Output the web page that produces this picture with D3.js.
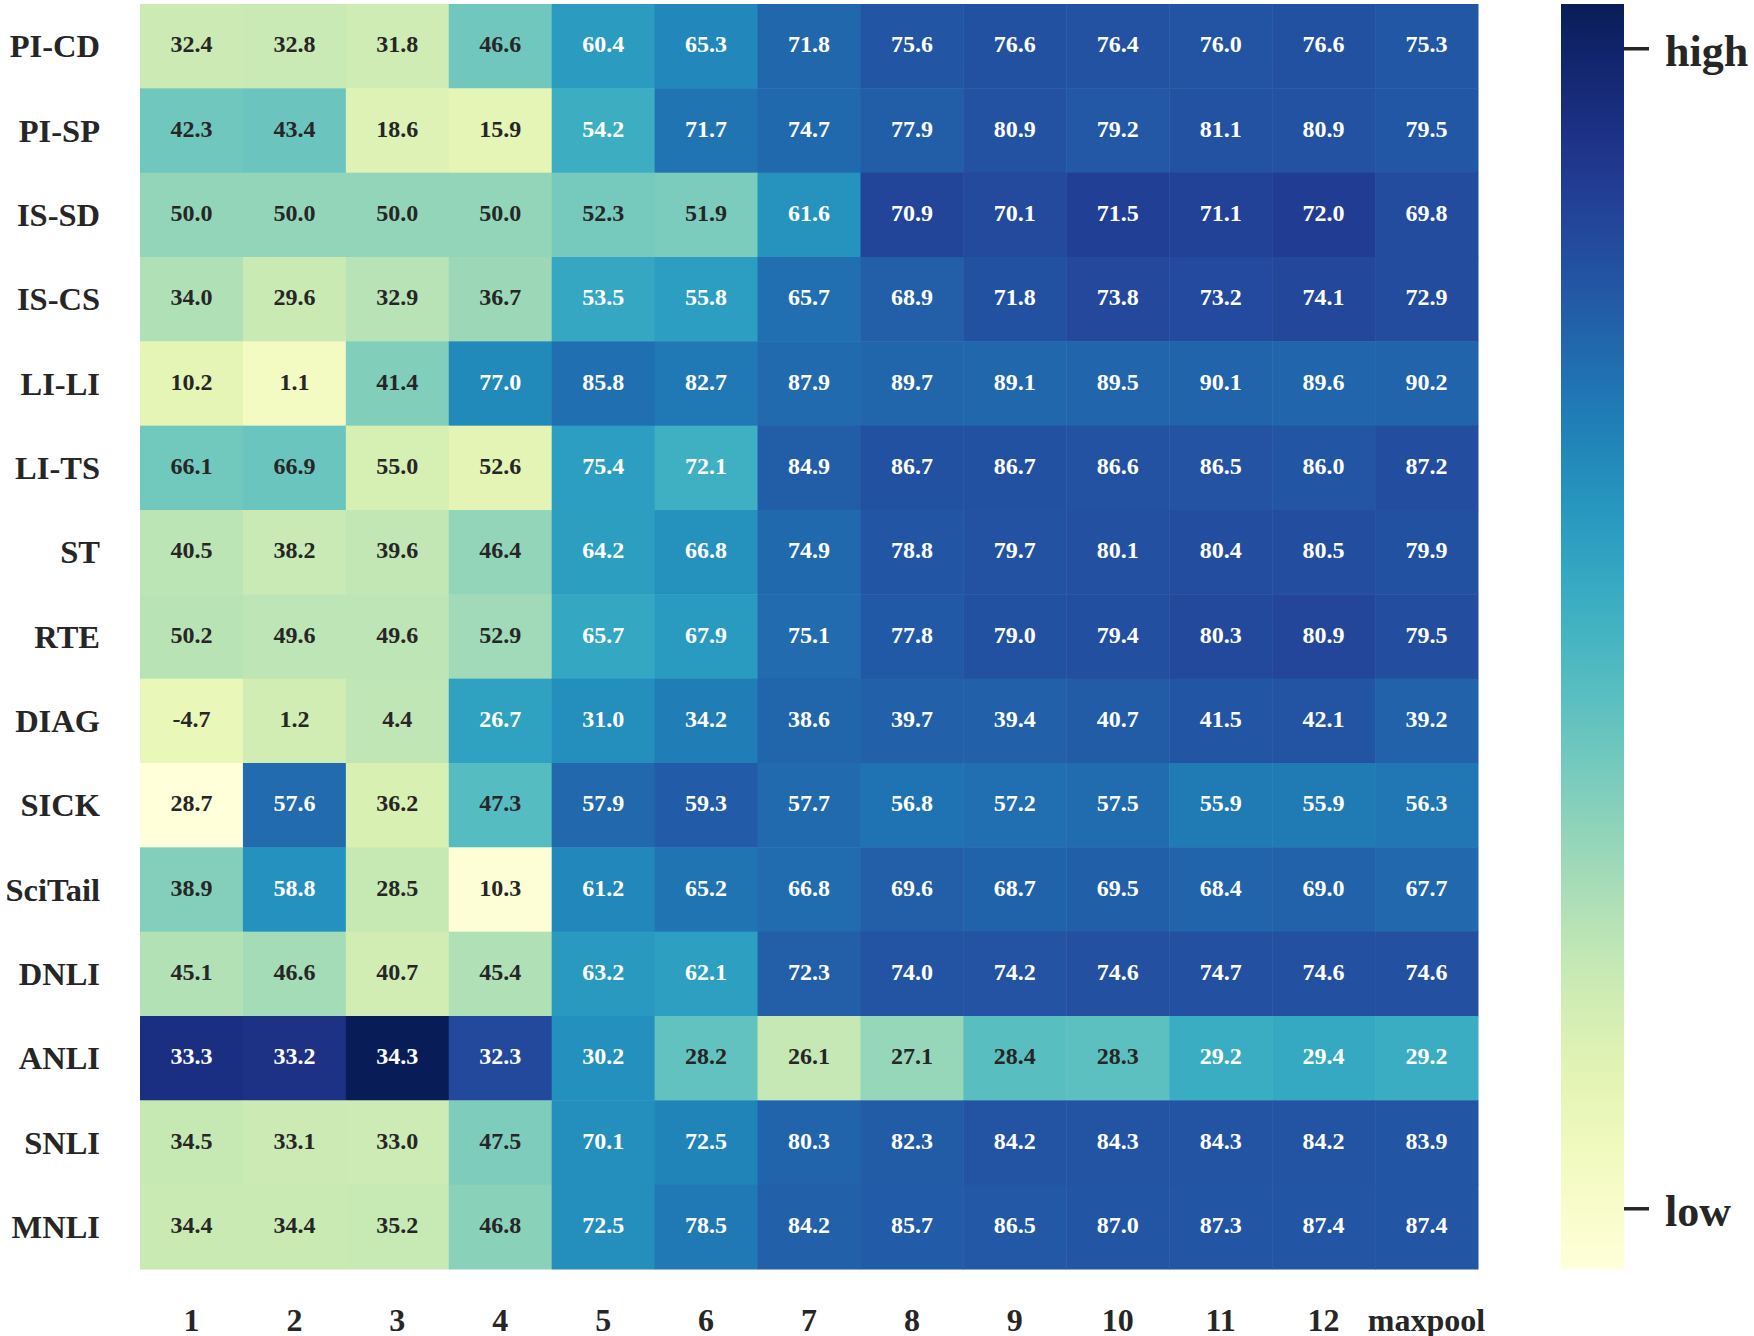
<!DOCTYPE html>
<meta charset="utf-8">
<script src="https://d3js.org/d3.v7.min.js"></script>
<style>
  body { margin: 0; background: #fff; }
  text { font-family: "Liberation Serif", "Times New Roman", serif; font-weight: bold; }
</style>
<body>
<script>
  // row labels (tasks) and column labels (layers)
  var tasks = ["PI-CD", "PI-SP", "IS-SD", "IS-CS", "LI-LI", "LI-TS", "ST", "RTE",
               "DIAG", "SICK", "SciTail", "DNLI", "ANLI", "SNLI", "MNLI"];
  var layers = ["1", "2", "3", "4", "5", "6", "7", "8", "9", "10", "11", "12", "maxpool"];

  var piCd    = [32.4, 32.8, 31.8, 46.6, 60.4, 65.3, 71.8, 75.6, 76.6, 76.4, 76.0, 76.6, 75.3];
  var piSp    = [42.3, 43.4, 18.6, 15.9, 54.2, 71.7, 74.7, 77.9, 80.9, 79.2, 81.1, 80.9, 79.5];
  var isSd    = [50.0, 50.0, 50.0, 50.0, 52.3, 51.9, 61.6, 70.9, 70.1, 71.5, 71.1, 72.0, 69.8];
  var isCs    = [34.0, 29.6, 32.9, 36.7, 53.5, 55.8, 65.7, 68.9, 71.8, 73.8, 73.2, 74.1, 72.9];
  var liLi    = [10.2, 1.1, 41.4, 77.0, 85.8, 82.7, 87.9, 89.7, 89.1, 89.5, 90.1, 89.6, 90.2];
  var liTs    = [66.1, 66.9, 55.0, 52.6, 75.4, 72.1, 84.9, 86.7, 86.7, 86.6, 86.5, 86.0, 87.2];
  var st      = [40.5, 38.2, 39.6, 46.4, 64.2, 66.8, 74.9, 78.8, 79.7, 80.1, 80.4, 80.5, 79.9];
  var rte     = [50.2, 49.6, 49.6, 52.9, 65.7, 67.9, 75.1, 77.8, 79.0, 79.4, 80.3, 80.9, 79.5];
  var diag    = [-4.7, 1.2, 4.4, 26.7, 31.0, 34.2, 38.6, 39.7, 39.4, 40.7, 41.5, 42.1, 39.2];
  var sick    = [28.7, 57.6, 36.2, 47.3, 57.9, 59.3, 57.7, 56.8, 57.2, 57.5, 55.9, 55.9, 56.3];
  var sciTail = [38.9, 58.8, 28.5, 10.3, 61.2, 65.2, 66.8, 69.6, 68.7, 69.5, 68.4, 69.0, 67.7];
  var dnli    = [45.1, 46.6, 40.7, 45.4, 63.2, 62.1, 72.3, 74.0, 74.2, 74.6, 74.7, 74.6, 74.6];
  var anli    = [33.3, 33.2, 34.3, 32.3, 30.2, 28.2, 26.1, 27.1, 28.4, 28.3, 29.2, 29.4, 29.2];
  var snli    = [34.5, 33.1, 33.0, 47.5, 70.1, 72.5, 80.3, 82.3, 84.2, 84.3, 84.3, 84.2, 83.9];
  var mnli    = [34.4, 34.4, 35.2, 46.8, 72.5, 78.5, 84.2, 85.7, 86.5, 87.0, 87.3, 87.4, 87.4];

  var rows = [piCd, piSp, isSd, isCs, liLi, liTs, st, rte, diag, sick, sciTail, dnli, anli, snli, mnli];

  // colorbar tick labels and where they sit (fraction of the colour range)
  var cbLabels = ["high", "low"];
  var cbFrac = [0.965, 0.048];

  // colour is by z-score within each row
  var cells = [];
  rows.forEach(function(vals, i) {
    var m = d3.mean(vals);
    var sd = Math.sqrt(d3.mean(vals, function(v) { return (v - m) * (v - m); }));
    vals.forEach(function(v, j) {
      cells.push({task: tasks[i], layer: layers[j], value: v, z: (v - m) / sd});
    });
  });

  var zExt = d3.extent(cells, function(d) { return d.z; });
  var color = d3.scaleSequential(d3.interpolateYlGnBu).domain(zExt);

  var W = 1754, H = 1336;
  var mLeft = 140, mTop = 4, mRight = 1478, mBottom = 1269;

  var svg = d3.select("body").append("svg")
      .attr("width", W)
      .attr("height", H);

  var x = d3.scaleBand().domain(layers).range([mLeft, mRight]);
  var y = d3.scaleBand().domain(tasks).range([mTop, mBottom]);

  function textColor(c) {
    var rgb = d3.rgb(c);
    var lin = [rgb.r, rgb.g, rgb.b].map(function(v) {
      v = v / 255;
      return v <= 0.03928 ? v / 12.92 : Math.pow((v + 0.055) / 1.055, 2.4);
    });
    var lum = 0.2126 * lin[0] + 0.7152 * lin[1] + 0.0722 * lin[2];
    return lum > 0.408 ? "#262626" : "#ffffff";
  }

  svg.append("g").selectAll("rect")
    .data(cells).enter().append("rect")
      .attr("x", function(d) { return x(d.layer); })
      .attr("y", function(d) { return y(d.task); })
      .attr("width", x.bandwidth() + 0.5)
      .attr("height", y.bandwidth() + 0.5)
      .attr("fill", function(d) { return color(d.z); });

  svg.append("g").selectAll("text")
    .data(cells).enter().append("text")
      .attr("x", function(d) { return x(d.layer) + x.bandwidth() / 2; })
      .attr("y", function(d) { return y(d.task) + y.bandwidth() / 2; })
      .attr("dy", "0.25em")
      .attr("text-anchor", "middle")
      .style("font-size", "24px")
      .attr("fill", function(d) { return textColor(color(d.z)); })
      .text(function(d) { return d.value.toFixed(1); });

  // axes without domain lines / ticks
  var yAxis = svg.append("g")
      .attr("transform", "translate(" + mLeft + ",0)")
      .call(d3.axisLeft(y).tickSize(0).tickPadding(40));
  yAxis.select(".domain").remove();
  yAxis.selectAll("text")
      .attr("dy", "0.34em")
      .attr("fill", "#262626")
      .style("font-size", "32.5px");

  var xAxis = svg.append("g")
      .attr("transform", "translate(0," + mBottom + ")")
      .call(d3.axisBottom(x).tickSize(0).tickPadding(0));
  xAxis.select(".domain").remove();
  xAxis.selectAll("text")
      .attr("y", 62)
      .attr("dy", 0)
      .attr("fill", "#262626")
      .style("font-size", "32px");

  // colorbar
  var cbX = 1561, cbW = 63;
  var defs = svg.append("defs");
  var grad = defs.append("linearGradient")
      .attr("id", "cbGrad")
      .attr("x1", 0).attr("y1", 1).attr("x2", 0).attr("y2", 0);
  d3.range(0, 1.0001, 0.05).forEach(function(t) {
    grad.append("stop")
      .attr("offset", t)
      .attr("stop-color", d3.interpolateYlGnBu(t));
  });
  svg.append("rect")
      .attr("x", cbX).attr("y", mTop)
      .attr("width", cbW).attr("height", mBottom - mTop)
      .attr("fill", "url(#cbGrad)");

  var cbScale = d3.scaleLinear().domain([0, 1]).range([mBottom, mTop]);
  var cbAxis = svg.append("g")
      .attr("transform", "translate(" + (cbX + cbW) + ",0)")
      .call(d3.axisRight(cbScale).tickValues(cbFrac)
        .tickFormat(function(d, i) { return cbLabels[i]; })
        .tickSize(25).tickPadding(16));
  cbAxis.select(".domain").remove();
  cbAxis.selectAll("line")
      .attr("stroke", "#262626")
      .attr("stroke-width", 3.5);
  cbAxis.selectAll("text")
      .attr("fill", "#262626")
      .attr("dy", "0.38em")
      .style("font-size", "44px");
</script>
</body>
